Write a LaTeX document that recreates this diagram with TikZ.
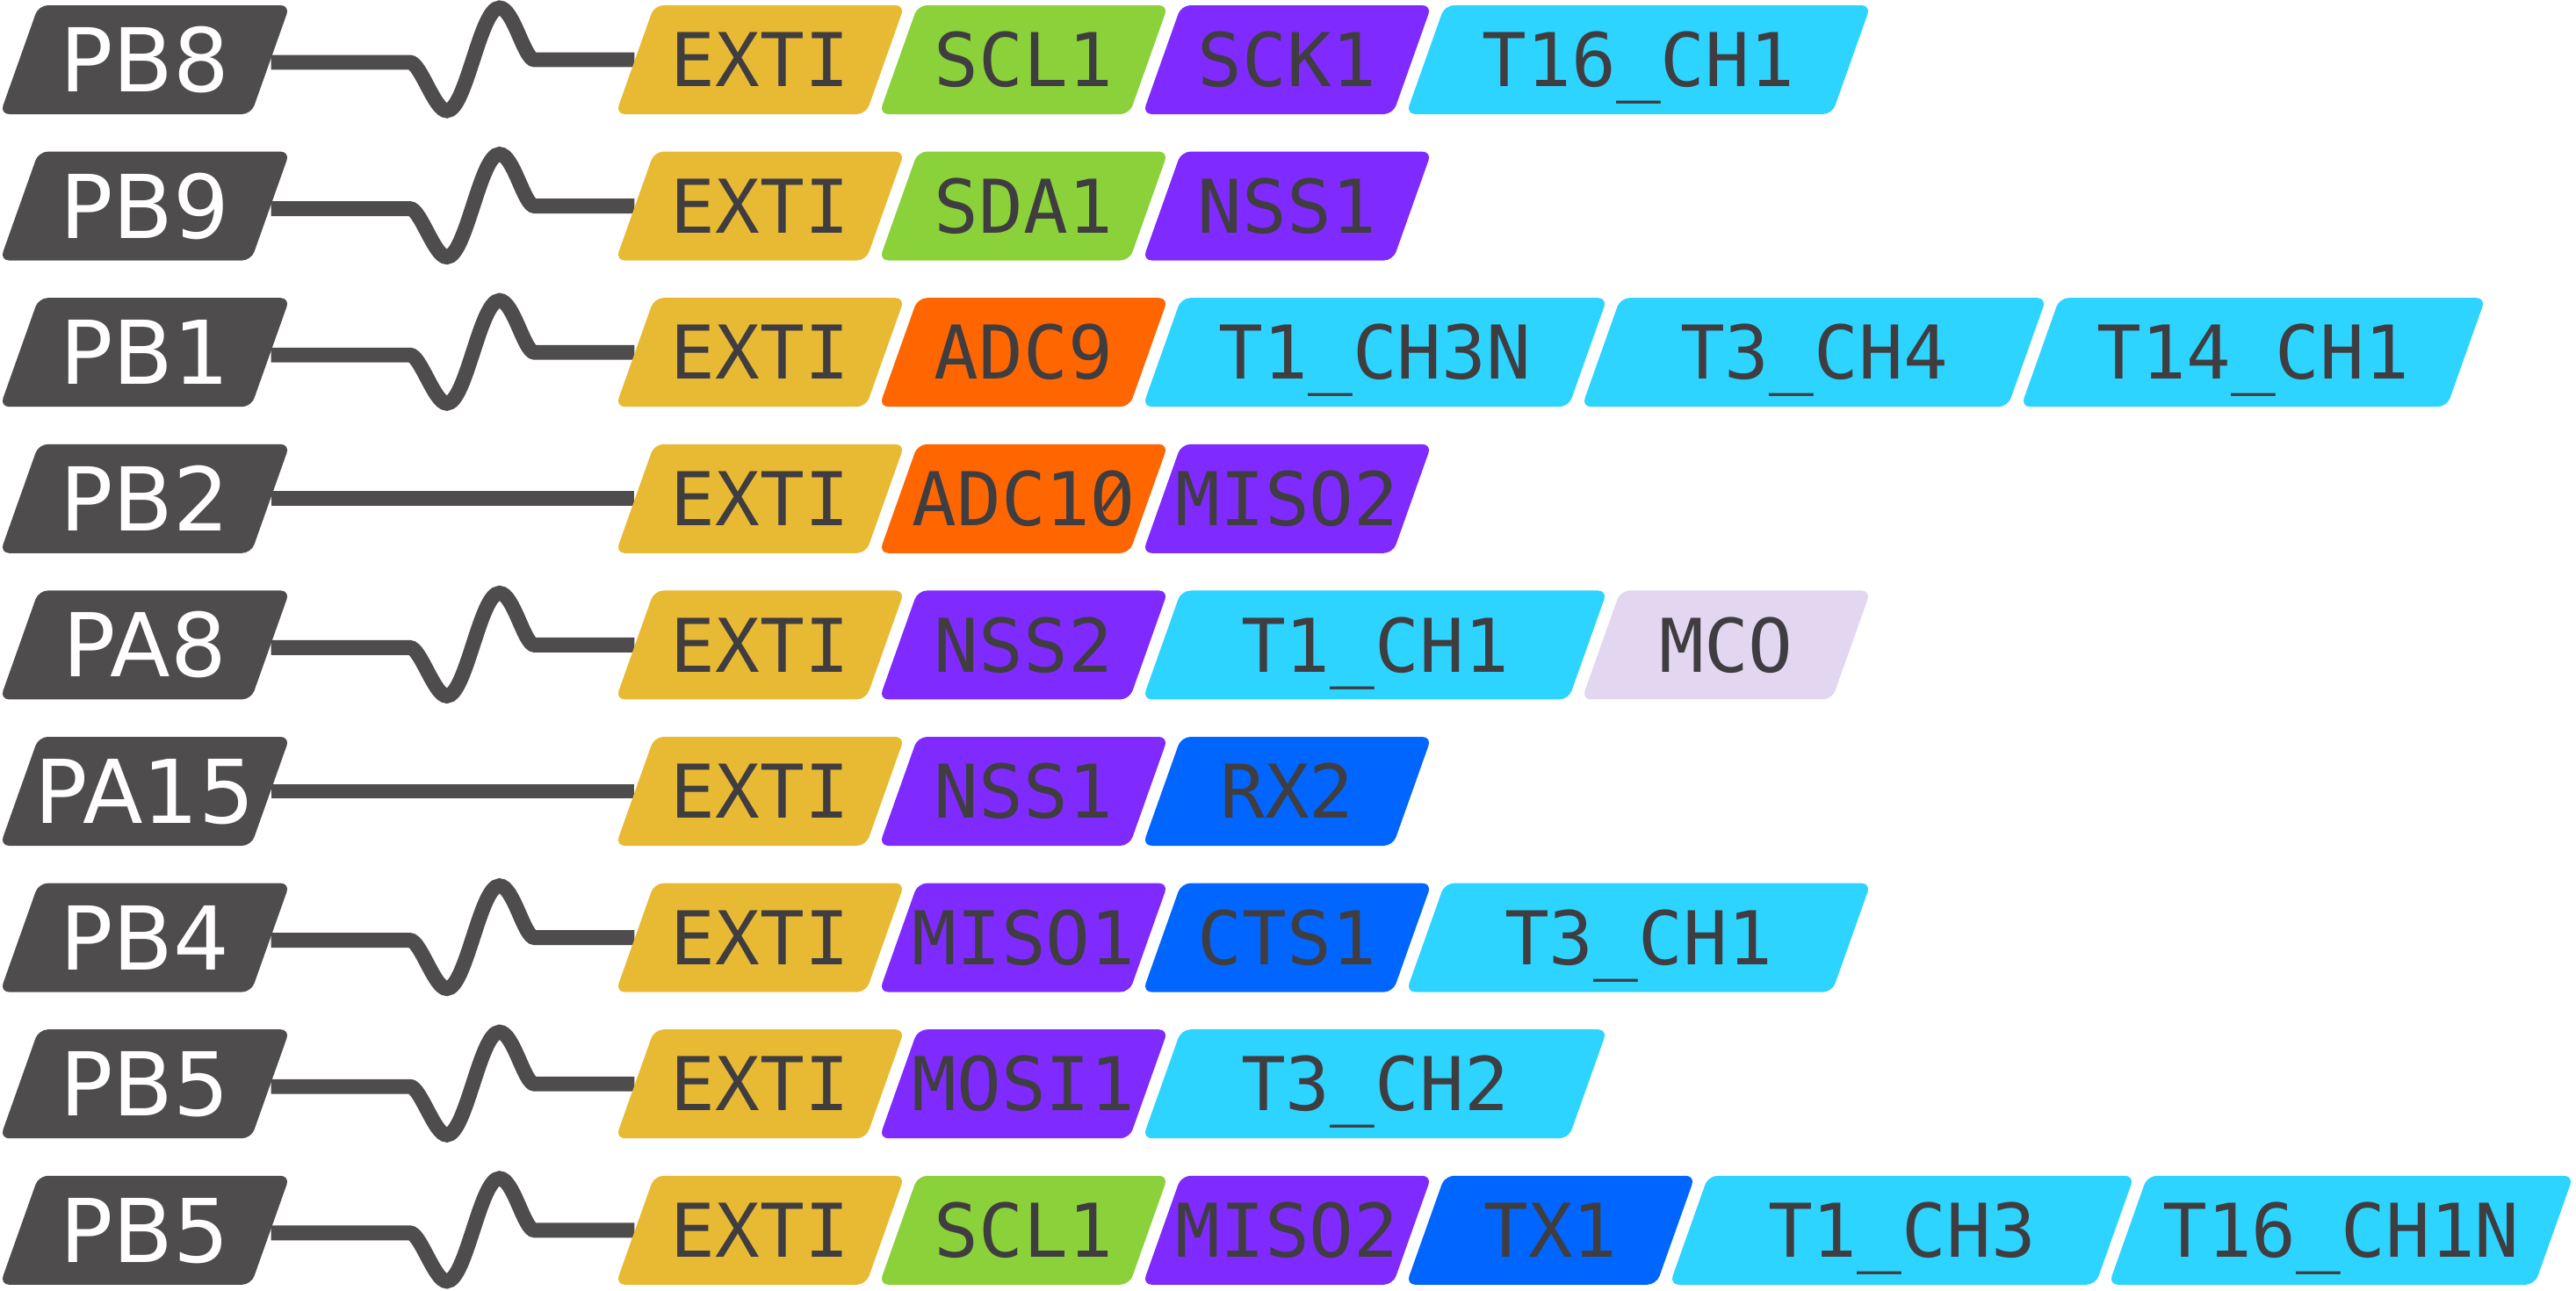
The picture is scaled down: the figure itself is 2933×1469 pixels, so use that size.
\documentclass[tikz,border=0pt]{standalone}
\usepackage{fontspec}
\setsansfont{DejaVu Sans}
\setmonofont{DejaVu Sans Mono}
\usetikzlibrary{backgrounds}

\definecolor{pincol}{HTML}{4F4C4D}
\definecolor{txtcol}{HTML}{403D41}
\definecolor{extcol}{HTML}{E8BA34}
\definecolor{i2ccol}{HTML}{8BD13A}
\definecolor{spicol}{HTML}{7F2BFF}
\definecolor{adccol}{HTML}{FF6600}
\definecolor{timcol}{HTML}{2CD4FF}
\definecolor{uartcol}{HTML}{0066FF}
\definecolor{syscol}{HTML}{E2D6F1}

% slashed zero
\newcommand{\slzero}{\ooalign{O\cr\hidewidth\raisebox{4.6pt}{\rotatebox{55}{\rule{11pt}{1.4pt}}}\hidewidth\cr}}

% slanted tile: [text style]{name}{x centre}{y centre}{width}{colour}{text}
\newcommand{\pintile}[7][tiletext]{%
  \fill[#6, rounded corners=3pt] (#3-#5/2-22, #4+62) -- (#3+#5/2-22, #4+62)
    -- (#3+#5/2+22, #4-62) -- (#3-#5/2+22, #4-62) -- cycle;
  \node[#1, minimum width={#5*0.01cm}] (#2) at (#3, #4) {#7};
}

\begin{document}
\begin{tikzpicture}[x=0.01cm, y=-0.01cm,
    tiletext/.style={inner sep=0pt, minimum height=1.24cm, text=txtcol,
      font=\ttfamily\fontsize{24}{29}\selectfont, text height=17.5pt, text depth=0pt},
    pintext/.style={inner sep=0pt, minimum height=1.24cm, text=white,
      font=\sffamily\fontsize{28.5}{34}\selectfont, text height=20.8pt, text depth=0pt},
    wire/.style={draw=pincol, line width=4.8pt},
    wavy/.style={to path={(\tikztostart) ++(0,3) -- ++(158,0)
      .. controls +(12,0) and +(-14,0) .. ++(42,55)
      .. controls +(22,0) and +(-22,0) .. ++(60,-117)
      .. controls +(16,0) and +(-12,0) .. ++(40,59) -- (\tikztotarget)}}]
  \useasboundingbox (0,0) rectangle (2933,1469);

  % PB8
  \pintile[pintext]{pb8}{165}{68}{286}{pincol}{PB8}
  \pintile{pb8-exti}{865.5}{68}{285}{extcol}{EXTI}
  \pintile{pb8-scl1}{1165.5}{68}{285}{i2ccol}{SCL1}
  \pintile{pb8-sck1}{1465.5}{68}{285}{spicol}{SCK1}
  \pintile{pb8-t16ch1}{1865.5}{68}{485}{timcol}{T16\_CH1}

  % PB9
  \pintile[pintext]{pb9}{165}{234.6}{286}{pincol}{PB9}
  \pintile{pb9-exti}{865.5}{234.6}{285}{extcol}{EXTI}
  \pintile{pb9-sda1}{1165.5}{234.6}{285}{i2ccol}{SDA1}
  \pintile{pb9-nss1}{1465.5}{234.6}{285}{spicol}{NSS1}

  % PB1
  \pintile[pintext]{pb1}{165}{401.2}{286}{pincol}{PB1}
  \pintile{pb1-exti}{865.5}{401.2}{285}{extcol}{EXTI}
  \pintile{pb1-adc9}{1165.5}{401.2}{285}{adccol}{ADC9}
  \pintile{pb1-t1ch3n}{1565.5}{401.2}{485}{timcol}{T1\_CH3N}
  \pintile{pb1-t3ch4}{2065.5}{401.2}{485}{timcol}{T3\_CH4}
  \pintile{pb1-t14ch1}{2565.5}{401.2}{485}{timcol}{T14\_CH1}

  % PB2
  \pintile[pintext]{pb2}{165}{567.8}{286}{pincol}{PB2}
  \pintile{pb2-exti}{865.5}{567.8}{285}{extcol}{EXTI}
  \pintile{pb2-adc10}{1165.5}{567.8}{285}{adccol}{ADC1\slzero}
  \pintile{pb2-miso2}{1465.5}{567.8}{285}{spicol}{MISO2}

  % PA8
  \pintile[pintext]{pa8}{165}{734.4}{286}{pincol}{PA8}
  \pintile{pa8-exti}{865.5}{734.4}{285}{extcol}{EXTI}
  \pintile{pa8-nss2}{1165.5}{734.4}{285}{spicol}{NSS2}
  \pintile{pa8-t1ch1}{1565.5}{734.4}{485}{timcol}{T1\_CH1}
  \pintile{pa8-mco}{1965.5}{734.4}{285}{syscol}{MCO}

  % PA15
  \pintile[pintext]{pa15}{165}{901}{286}{pincol}{PA15}
  \pintile{pa15-exti}{865.5}{901}{285}{extcol}{EXTI}
  \pintile{pa15-nss1}{1165.5}{901}{285}{spicol}{NSS1}
  \pintile{pa15-rx2}{1465.5}{901}{285}{uartcol}{RX2}

  % PB4
  \pintile[pintext]{pb4}{165}{1067.6}{286}{pincol}{PB4}
  \pintile{pb4-exti}{865.5}{1067.6}{285}{extcol}{EXTI}
  \pintile{pb4-miso1}{1165.5}{1067.6}{285}{spicol}{MISO1}
  \pintile{pb4-cts1}{1465.5}{1067.6}{285}{uartcol}{CTS1}
  \pintile{pb4-t3ch1}{1865.5}{1067.6}{485}{timcol}{T3\_CH1}

  % PB5
  \pintile[pintext]{pb5}{165}{1234.2}{286}{pincol}{PB5}
  \pintile{pb5-exti}{865.5}{1234.2}{285}{extcol}{EXTI}
  \pintile{pb5-mosi1}{1165.5}{1234.2}{285}{spicol}{MOSI1}
  \pintile{pb5-t3ch2}{1565.5}{1234.2}{485}{timcol}{T3\_CH2}

  % PB5 (second)
  \pintile[pintext]{pb5b}{165}{1400.8}{286}{pincol}{PB5}
  \pintile{pb5b-exti}{865.5}{1400.8}{285}{extcol}{EXTI}
  \pintile{pb5b-scl1}{1165.5}{1400.8}{285}{i2ccol}{SCL1}
  \pintile{pb5b-miso2}{1465.5}{1400.8}{285}{spicol}{MISO2}
  \pintile{pb5b-tx1}{1765.5}{1400.8}{285}{uartcol}{TX1}
  \pintile{pb5b-t1ch3}{2165.5}{1400.8}{485}{timcol}{T1\_CH3}
  \pintile{pb5b-t16ch1n}{2665.5}{1400.8}{485}{timcol}{T16\_CH1N}

  \begin{scope}[on background layer]
    \draw[wire] (pb8.east) to[wavy] (pb8-exti.west);
    \draw[wire] (pb9.east) to[wavy] (pb9-exti.west);
    \draw[wire] (pb1.east) to[wavy] (pb1-exti.west);
    \draw[wire] (pb2.east) -- (pb2-exti.west);
    \draw[wire] (pa8.east) to[wavy] (pa8-exti.west);
    \draw[wire] (pa15.east) -- (pa15-exti.west);
    \draw[wire] (pb4.east) to[wavy] (pb4-exti.west);
    \draw[wire] (pb5.east) to[wavy] (pb5-exti.west);
    \draw[wire] (pb5b.east) to[wavy] (pb5b-exti.west);
  \end{scope}
\end{tikzpicture}
\end{document}
